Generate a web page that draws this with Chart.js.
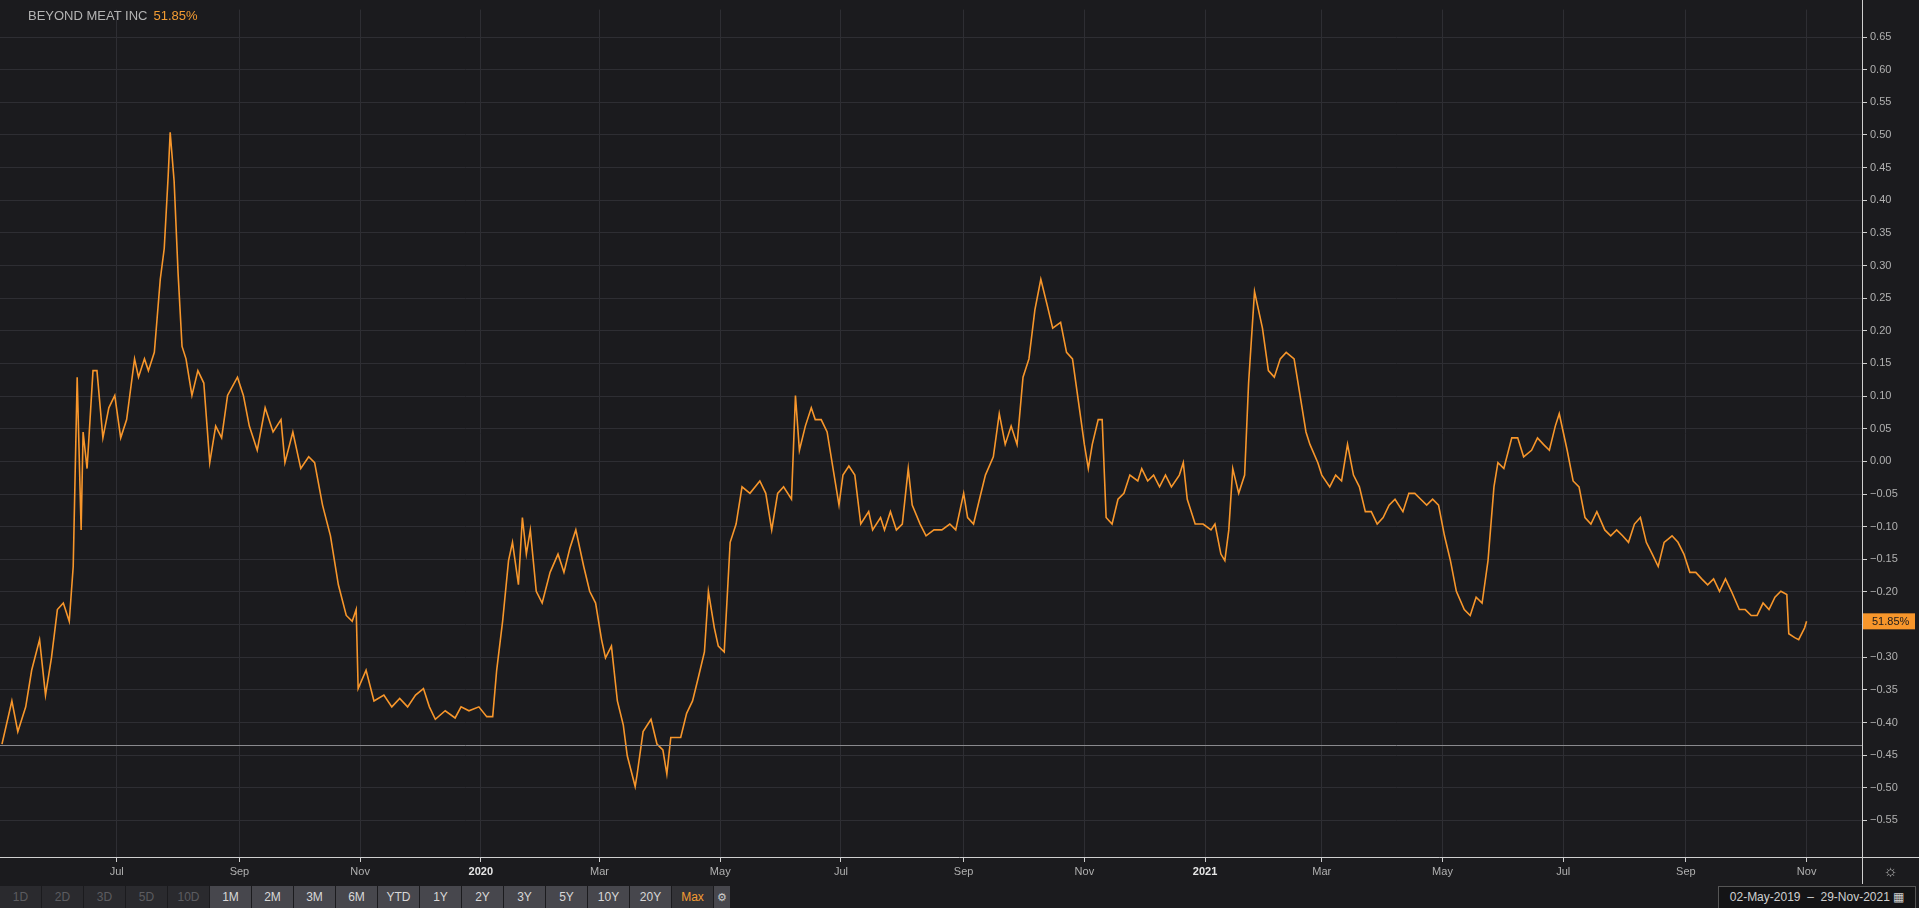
<!DOCTYPE html>
<html>
<head>
<meta charset="utf-8">
<script src="https://cdn.jsdelivr.net/npm/chart.js@4/dist/chart.umd.min.js"></script>
<style>
  html, body { margin: 0; padding: 0; background: #1b1b1e; overflow: hidden; }
  body { width: 1919px; height: 908px; position: relative; font-family: "Liberation Sans", Arial, sans-serif; }
  #wrap { position: absolute; left: 0; top: 0; width: 1919px; height: 884px; }
  #title { position: absolute; left: 28px; top: 8px; font-size: 13px; color: #b4b4b4; }
  #title span { color: #f39c33; margin-left: 6px; }
  #bar { position: absolute; left: 0; top: 886px; height: 22px; display: flex; }
  .btn { width: 41px; margin-right: 1px; height: 22px; line-height: 22px; text-align: center;
         font-size: 12px; color: #d8d8d8; background: #47474d; }
  .btn.off { color: #5c5c60; background: #2a2a2e; }
  .btn.on { color: #f39c33; background: #333337; }
  .btn.gear { width: 16px; background: #47474d; color: #ccc; font-size: 11px; }
  #range { position: absolute; left: 1718px; top: 886px; width: 196px; height: 21px; line-height: 21px;
           border: 1px solid #555; font-size: 12px; color: #d0d0d0; text-align: center; background: #141416; }
  #sun { position: absolute; left: 1883px; top: 862px; color: #aaa; font-size: 16px; }
</style>
</head>
<body>
<div id="wrap"><canvas id="chart"></canvas></div>
<div id="title">BEYOND MEAT INC<span>51.85%</span></div>
<div id="sun">☼</div>
<div id="bar"></div>
<div id="range">02-May-2019 &nbsp;–&nbsp; 29-Nov-2021 &#9638;</div>
<script>
// days since 02-May-2019
const days = [2,7,10,14,17,21,24,27,30,33,36,38,40,42,43,45,48,50,53,56,59,62,65,69,71,74,76,79,82,84,86,87,89,91,93,95,98,101,104,107,110,113,116,121,124,127,131,135,139,143,145,149,153,157,160,164,168,172,176,179,181,182,186,190,195,199,203,207,211,215,218,221,226,231,234,238,243,247,250,252,255,258,260,263,265,267,269,272,275,279,283,286,289,292,296,299,302,305,307,310,313,316,318,322,323,326,330,333,336,338,340,345,348,351,354,357,359,362,364,367,370,373,376,380,385,388,391,394,397,401,403,405,408,411,413,416,419,422,425,427,430,433,436,440,442,446,448,451,454,457,460,462,466,469,473,477,481,484,488,490,493,496,499,503,506,509,512,515,518,521,524,527,530,533,537,540,543,546,549,551,553,556,558,560,563,566,569,572,576,578,581,584,587,590,593,597,599,601,605,609,613,615,618,620,622,624,627,630,632,635,639,642,645,648,651,655,657,661,663,667,669,673,676,679,682,685,688,691,694,697,700,703,706,710,713,716,719,722,725,728,731,734,737,741,744,747,750,753,756,758,761,765,768,771,775,778,781,784,787,789,793,796,799,802,805,808,812,815,818,821,824,827,830,833,836,839,842,846,849,852,855,858,861,864,867,870,873,876,880,883,886,889,892,895,898,901,904,905,908,910,913,914];
const values = [-0.433,-0.367,-0.414,-0.376,-0.320,-0.273,-0.358,-0.301,-0.227,-0.217,-0.245,-0.161,0.129,-0.105,0.045,-0.011,0.139,0.139,0.036,0.082,0.101,0.036,0.064,0.157,0.129,0.157,0.139,0.167,0.279,0.326,0.438,0.504,0.429,0.288,0.176,0.157,0.101,0.139,0.120,-0.002,0.054,0.036,0.101,0.129,0.101,0.054,0.017,0.082,0.045,0.064,-0.002,0.045,-0.011,0.007,-0.002,-0.067,-0.114,-0.189,-0.236,-0.245,-0.227,-0.348,-0.320,-0.367,-0.358,-0.376,-0.363,-0.376,-0.358,-0.348,-0.376,-0.395,-0.382,-0.393,-0.376,-0.382,-0.376,-0.391,-0.391,-0.320,-0.245,-0.152,-0.124,-0.189,-0.086,-0.142,-0.105,-0.199,-0.217,-0.170,-0.142,-0.170,-0.133,-0.105,-0.161,-0.199,-0.217,-0.273,-0.301,-0.283,-0.367,-0.404,-0.451,-0.498,-0.479,-0.414,-0.395,-0.433,-0.442,-0.479,-0.423,-0.423,-0.386,-0.367,-0.330,-0.292,-0.199,-0.255,-0.283,-0.292,-0.124,-0.096,-0.039,-0.049,-0.030,-0.049,-0.105,-0.049,-0.039,-0.058,0.101,0.017,0.054,0.082,0.064,0.064,0.045,-0.011,-0.067,-0.021,-0.007,-0.021,-0.096,-0.077,-0.105,-0.086,-0.105,-0.077,-0.105,-0.096,-0.011,-0.067,-0.096,-0.114,-0.105,-0.105,-0.096,-0.105,-0.049,-0.086,-0.096,-0.058,-0.021,0.007,0.073,0.026,0.054,0.026,0.129,0.157,0.232,0.279,0.242,0.204,0.213,0.167,0.157,0.092,0.026,-0.011,0.026,0.064,0.064,-0.086,-0.096,-0.058,-0.049,-0.021,-0.030,-0.011,-0.030,-0.021,-0.039,-0.021,-0.039,-0.021,-0.002,-0.058,-0.096,-0.096,-0.105,-0.096,-0.142,-0.152,-0.105,-0.011,-0.049,-0.021,0.120,0.260,0.204,0.139,0.129,0.157,0.167,0.157,0.120,0.045,0.026,-0.002,-0.021,-0.039,-0.021,-0.030,0.026,-0.021,-0.039,-0.077,-0.077,-0.096,-0.086,-0.067,-0.058,-0.077,-0.049,-0.049,-0.058,-0.067,-0.058,-0.067,-0.114,-0.152,-0.199,-0.227,-0.236,-0.208,-0.217,-0.152,-0.039,-0.002,-0.011,0.036,0.036,0.007,0.017,0.036,0.026,0.017,0.054,0.073,0.017,-0.030,-0.039,-0.086,-0.096,-0.077,-0.105,-0.114,-0.105,-0.114,-0.124,-0.096,-0.086,-0.124,-0.142,-0.161,-0.124,-0.114,-0.124,-0.142,-0.170,-0.170,-0.180,-0.189,-0.180,-0.199,-0.180,-0.199,-0.227,-0.227,-0.236,-0.236,-0.217,-0.227,-0.208,-0.199,-0.204,-0.264,-0.270,-0.273,-0.255,-0.245];
const xTickDays = [60,122,183,244,304,365,426,488,549,610,669,730,791,853,914];
const xTickLabels = ["Jul","Sep","Nov","2020","Mar","May","Jul","Sep","Nov","2021","Mar","May","Jul","Sep","Nov"];
const yTicks = [0.65,0.60,0.55,0.50,0.45,0.40,0.35,0.30,0.25,0.20,0.15,0.10,0.05,0.00,-0.05,-0.10,-0.15,-0.20,-0.25,-0.30,-0.35,-0.40,-0.45,-0.50,-0.55];
const baseLine = -0.435;
const lastLabel = "51.85%";
const buttons = ["1D","2D","3D","5D","10D","1M","2M","3M","6M","YTD","1Y","2Y","3Y","5Y","10Y","20Y","Max"];

const bar = document.getElementById("bar");
bar.innerHTML = buttons.map((b, i) => {
  const cls = i < 5 ? "btn off" : (b === "Max" ? "btn on" : "btn");
  return `<div class="${cls}">${b}</div>`;
}).join("") + `<div class="btn gear">⚙</div>`;

const orange = "#f7962b";

const overlay = {
  id: "overlay",
  afterDatasetsDraw(chart) {
    const { ctx, chartArea, scales } = chart;
    const y0 = scales.y.getPixelForValue(baseLine);
    ctx.save();
    ctx.strokeStyle = "#8a8a8e";
    ctx.lineWidth = 1;
    ctx.beginPath();
    ctx.moveTo(chartArea.left, Math.round(y0) + 0.5);
    ctx.lineTo(chartArea.right, Math.round(y0) + 0.5);
    ctx.stroke();
    // axis lines
    ctx.strokeStyle = "#cfcfcf";
    ctx.beginPath();
    ctx.moveTo(chartArea.left, chartArea.bottom + 0.5);
    ctx.lineTo(chart.width, chartArea.bottom + 0.5);
    ctx.moveTo(chartArea.right + 0.5, 0);
    ctx.lineTo(chartArea.right + 0.5, chart.height);
    ctx.stroke();
    // last value tag
    const yl = scales.y.getPixelForValue(values[values.length - 1]);
    ctx.fillStyle = orange;
    ctx.fillRect(chartArea.right + 1, yl - 8, 52, 16);
    ctx.fillStyle = "#1b1b1e";
    ctx.font = "11px 'Liberation Sans', Arial";
    ctx.textBaseline = "middle";
    ctx.fillText(lastLabel, chartArea.right + 10, yl + 1);
    ctx.restore();
  }
};

new Chart(document.getElementById("chart"), {
  type: "line",
  data: {
    datasets: [{
      data: days.map((d, i) => ({ x: d, y: values[i] })),
      borderColor: orange,
      borderWidth: 1.6,
      pointRadius: 0,
      tension: 0,
    }],
  },
  options: {
    responsive: true,
    maintainAspectRatio: false,
    animation: false,
    layout: { padding: 0 },
    plugins: { legend: { display: false }, tooltip: { enabled: false } },
    scales: {
      x: {
        type: "linear",
        min: 1,
        max: 942,
        afterBuildTicks: (s) => { s.ticks = xTickDays.map((v) => ({ value: v })); },
        afterFit: (s) => { s.height = 27; },
        grid: { color: "#2e2e33", tickColor: "#cfcfcf", tickLength: 5, drawTicks: true },
        border: { display: false },
        ticks: {
          color: (c) => (/^20/.test(xTickLabels[c.index]) ? "#e6e6e6" : "#b0b0b0"),
          font: (c) => ({ size: 11, family: "'Liberation Sans', Arial", weight: /^20/.test(xTickLabels[c.index]) ? "bold" : "normal" }),
          padding: 3,
          maxRotation: 0,
          autoSkip: false,
          callback: (v, i) => xTickLabels[i],
        },
      },
      y: {
        position: "right",
        min: -0.606,
        max: 0.692,
        afterBuildTicks: (s) => { s.ticks = yTicks.map((v) => ({ value: v })); },
        afterFit: (s) => { s.width = 57; },
        grid: { color: "#2e2e33", tickColor: "#cfcfcf", tickLength: 5 },
        border: { display: false },
        ticks: {
          color: "#b0b0b0",
          font: { size: 11, family: "'Liberation Sans', Arial" },
          padding: 3,
          callback: (v) => (v < 0 ? "\u2212" + Math.abs(v).toFixed(2) : v.toFixed(2)),
        },
      },
    },
  },
  plugins: [overlay],
});
</script>
</body>
</html>
